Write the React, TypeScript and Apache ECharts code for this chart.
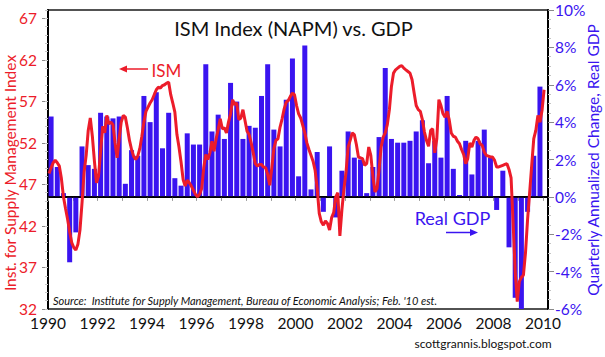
import { useEffect, useRef } from "react";
import * as echarts from "echarts";

const startYear = 1990;
const xLabelYears = [1990, 1992, 1994, 1996, 1998, 2000, 2002, 2004, 2006, 2008, 2010];
const xTickYears = [1990, 1991, 1992, 1993, 1994, 1995, 1996, 1997, 1998, 1999, 2000, 2001, 2002, 2003, 2004, 2005, 2006, 2007, 2008, 2009, 2010];
const ismTickLabels = [32, 37, 42, 47, 52, 57, 62, 67];

// Real GDP, quarterly annualized % change, 1990Q1 .. 2009Q4
const gdpQuarterly = [
  4.3, 1.6, 0.2, -3.5,
  -1.9, 2.7, 1.7, 1.5,
  4.5, 4.3, 4.2, 4.3,
  0.7, 2.5, 2.2, 5.4,
  4.0, 5.6, 2.6, 4.5,
  1.0, 0.6, 3.4, 2.8,
  2.8, 7.1, 3.5, 4.4,
  3.1, 6.1, 5.1, 3.1,
  3.8, 3.7, 5.4, 7.1,
  3.6, 2.7, 5.2, 7.4,
  1.1, 8.1, 0.4, 2.4,
  -0.8, 2.7, -1.1, 1.4,
  3.5, 2.1, 2.0, 0.2,
  1.6, 3.2, 6.9, 3.1,
  2.9, 2.9, 3.0, 3.5,
  4.1, 1.8, 3.0, 2.1,
  5.4, 1.5, 0.1, 3.0,
  1.2, 3.0, 3.6, 2.1,
  -0.7, 1.4, -2.7, -5.4,
  -6.4, -0.8, 2.2, 5.9,
];

// ISM index, monthly, Jan 1990 .. Dec 1999
const ism1990s = [
  48.3, 49.0, 49.6, 49.9, 49.6, 49.2, 47.7, 45.5, 44.1, 42.8, 41.3, 40.0,
  39.4, 39.1, 39.8, 41.5, 44.8, 48.5, 50.5, 53.5, 55.0, 52.8, 49.8, 47.2,
  48.0, 51.0, 54.0, 53.2, 55.3, 54.3, 54.5, 54.2, 52.0, 50.2, 52.5, 54.5,
  55.3, 55.1, 53.8, 52.3, 51.2, 50.4, 50.0, 50.4, 51.3, 52.8, 54.5, 55.8,
  56.3, 56.8, 57.2, 57.8, 58.4, 58.7, 58.6, 58.9, 59.0, 59.2, 59.3, 57.8,
  56.8, 55.7, 53.0, 51.5, 49.7, 47.6, 46.8, 47.5, 47.2, 46.8, 46.3, 45.8,
  45.5, 45.8, 46.5, 49.0, 50.6, 50.0, 50.8, 52.2, 51.0, 52.5, 53.6, 54.9,
  53.7, 53.8, 53.2, 54.5, 55.5, 57.2, 56.6, 56.8, 54.8, 55.0, 56.0, 54.7,
  53.4, 53.0, 52.0, 50.8, 49.5, 49.2, 49.4, 49.4, 49.1, 49.0, 48.2, 46.9,
  49.0, 51.3, 52.3, 52.5, 53.9, 54.9, 56.1, 56.9, 57.1, 57.6, 58.0, 57.8,
];

// ISM index, monthly, Jan 2000 .. Jan 2010
const ism2000s = [
  56.5, 55.5, 55.0, 54.1, 53.2, 52.0, 51.2, 50.5, 49.8, 48.7, 46.5, 43.5,
  42.5, 42.1, 42.6, 42.3, 41.5, 43.0, 43.6, 45.5, 46.0, 40.8, 44.0, 46.5,
  48.5, 51.5, 52.3, 53.2, 53.0, 51.8, 50.3, 50.2, 50.1, 49.3, 49.5, 51.5,
  50.5, 48.0, 46.1, 46.5, 48.8, 51.5, 52.7, 53.2, 54.2, 56.0, 58.8, 60.4,
  60.8, 61.0, 61.2, 61.3, 61.0, 60.8, 60.6, 60.4, 59.6, 58.0, 56.5, 56.0,
  55.8, 54.8, 53.3, 52.3, 51.6, 53.5, 53.7, 50.8, 52.5, 57.2, 56.5, 55.5,
  55.1, 55.8, 54.8, 53.2, 52.8, 52.7, 52.2, 51.9, 51.2, 50.6, 49.5, 50.1,
  52.0, 51.5, 52.3, 52.7, 52.5, 51.9, 51.7, 50.9, 50.5, 50.4, 50.3, 50.3,
  49.9, 49.1, 49.1, 49.2, 49.3, 49.4, 49.5, 48.8, 47.8, 42.3, 36.5, 32.9,
  35.3, 35.8, 36.1, 38.8, 42.8, 46.0, 49.3, 52.5, 53.5, 55.3, 54.5, 55.9,
  58.4,
];

const RED = "#ec1c2a";
const BLUE = "#3a14f0";
const FONT = "Lato";

export default function App() {
  const ref = useRef<HTMLDivElement>(null);

  useEffect(() => {
    if (!ref.current) return;
    const chart = echarts.init(ref.current, null, { renderer: "svg" });

    const ismAll = ism1990s.concat(ism2000s);
    const ismData = ismAll.map((v, i) => [startYear + (i + 0.5) / 12, v]);
    const gdpData = gdpQuarterly.map((v, i) => [startYear + i * 0.25 + 0.125, v]);

    const option: any = {
      animation: false,
      backgroundColor: "#ffffff",
      textStyle: { fontFamily: FONT },
      grid: {
        left: 48,
        right: 57,
        top: 10,
        bottom: 48,
        show: true,
        borderColor: "#1a1a1a",
        borderWidth: 1.5,
        backgroundColor: "transparent",
      },
      xAxis: {
        type: "value",
        min: 1990,
        max: 2010.2,
        axisLine: { show: true, lineStyle: { color: "#000", width: 2 } },
        axisTick: {
          show: true,
          customValues: xTickYears,
          length: 4,
          lineStyle: { color: "#999", width: 1 },
        },
        axisLabel: {
          customValues: xLabelYears,
          margin: 6,
          fontSize: 15.5,
          fontFamily: FONT,
          color: "#111",
          formatter: (v: number) => String(v),
        },
        splitLine: { show: false },
      },
      yAxis: [
        {
          type: "value",
          position: "left",
          min: 32,
          max: 68,
          axisLine: { show: true, lineStyle: { color: "#000", width: 2 } },
          axisTick: {
            show: true,
            customValues: ismTickLabels,
            length: 6,
            lineStyle: { color: "#8a8a8a", width: 1 },
          },
          axisLabel: {
            customValues: ismTickLabels,
            margin: 11,
            fontSize: 15.5,
            fontFamily: FONT,
            color: RED,
          },
          splitLine: { show: false },
        },
        {
          type: "value",
          position: "right",
          min: -6,
          max: 10,
          interval: 2,
          axisLine: { show: true, lineStyle: { color: "#000", width: 2 } },
          axisTick: {
            show: true,
            length: 6,
            lineStyle: { color: "#8a8a8a", width: 1 },
          },
          minorTick: {
            show: true,
            splitNumber: 4,
            length: 3,
            lineStyle: { color: "#c4c4c4", width: 1 },
          },
          axisLabel: {
            margin: 7,
            fontSize: 15.5,
            fontFamily: FONT,
            color: BLUE,
            formatter: (v: number) => v + "%",
          },
          splitLine: { show: false },
          minorSplitLine: { show: false },
        },
        {
          type: "value",
          position: "left",
          min: 32,
          max: 68,
          interval: 1,
          axisLine: { show: false },
          axisTick: {
            show: true,
            length: 3,
            lineStyle: { color: "#c4c4c4", width: 1 },
          },
          axisLabel: { show: false },
          splitLine: { show: false },
        },
      ],
      series: [
        {
          type: "bar",
          name: "Real GDP",
          xAxisIndex: 0,
          yAxisIndex: 1,
          data: gdpData,
          barWidth: 5,
          itemStyle: { color: BLUE },
          z: 2,
          markLine: {
            silent: true,
            symbol: "none",
            label: { show: false },
            lineStyle: { color: "#000", width: 1.5, type: "solid" },
            data: [{ yAxis: 0 }],
          },
        },
        {
          type: "line",
          name: "ISM",
          xAxisIndex: 0,
          yAxisIndex: 0,
          data: ismData,
          showSymbol: false,
          symbol: "none",
          lineStyle: { color: RED, width: 3 },
          itemStyle: { color: RED },
          z: 5,
        },
      ],
      graphic: [
        {
          type: "text",
          x: 293.5,
          y: 28,
          style: {
            text: "ISM Index (NAPM) vs. GDP",
            fontSize: 20,
            fontFamily: FONT,
            fill: "#111",
            align: "center",
            verticalAlign: "middle",
          },
          z: 10,
        },
        {
          type: "line",
          shape: { x1: 124, y1: 69, x2: 148, y2: 69 },
          style: { stroke: RED, lineWidth: 1.5 },
          z: 10,
        },
        {
          type: "polygon",
          shape: { points: [[119, 69], [127, 65.5], [127, 72.5]] },
          style: { fill: RED },
          z: 10,
        },
        {
          type: "text",
          x: 151.5,
          y: 70,
          style: {
            text: "ISM",
            fontSize: 17,
            fontFamily: FONT,
            fill: RED,
            align: "left",
            verticalAlign: "middle",
          },
          z: 10,
        },
        {
          type: "text",
          x: 452.5,
          y: 218,
          style: {
            text: "Real GDP",
            fontSize: 18,
            fontFamily: FONT,
            fill: BLUE,
            align: "center",
            verticalAlign: "middle",
          },
          z: 10,
        },
        {
          type: "line",
          shape: { x1: 446, y1: 232.5, x2: 472, y2: 232.5 },
          style: { stroke: BLUE, lineWidth: 1.5 },
          z: 10,
        },
        {
          type: "polygon",
          shape: { points: [[478, 232.5], [470, 229], [470, 236]] },
          style: { fill: BLUE },
          z: 10,
        },
        {
          type: "text",
          x: 53,
          y: 300,
          style: {
            text: "Source:  Institute for Supply Management, Bureau of Economic Analysis; Feb. '10 est.",
            fontSize: 11,
            fontStyle: "italic",
            fontFamily: FONT,
            fill: "#111",
            align: "left",
            verticalAlign: "middle",
          },
          z: 10,
        },
        {
          type: "text",
          x: 483,
          y: 343.5,
          style: {
            text: "scottgrannis.blogspot.com",
            fontSize: 12,
            fontFamily: FONT,
            fill: "#111",
            align: "center",
            verticalAlign: "middle",
          },
          z: 10,
        },
        {
          type: "text",
          x: 10,
          y: 173,
          rotation: Math.PI / 2,
          style: {
            text: "Inst. for Supply Management Index",
            fontSize: 15.5,
            fontFamily: FONT,
            fill: RED,
            align: "center",
            verticalAlign: "middle",
          },
          z: 10,
        },
        {
          type: "text",
          x: 593,
          y: 160,
          rotation: Math.PI / 2,
          style: {
            text: "Quarterly Annualized Change, Real GDP",
            fontSize: 15.5,
            fontFamily: FONT,
            fill: BLUE,
            align: "center",
            verticalAlign: "middle",
          },
          z: 10,
        },
      ],
    };

    chart.setOption(option);
    return () => chart.dispose();
  }, []);

  return (
    <div
      ref={ref}
      style={{ position: "absolute", left: 0, top: 0, width: 605, height: 357 }}
    />
  );
}
